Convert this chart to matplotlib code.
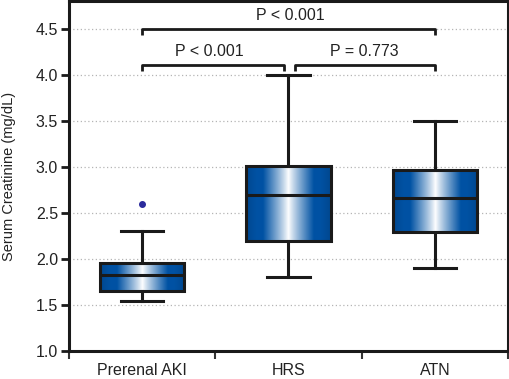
import numpy as np
import matplotlib
matplotlib.use("Agg")
import matplotlib.pyplot as plt

plt.rcParams['font.family'] = ['Liberation Sans', 'DejaVu Sans']

categories = ["Prerenal AKI", "HRS", "ATN"]
whisker_low = [1.54, 1.80, 1.90]
q1 = [1.65, 2.20, 2.29]
medians = [1.83, 2.70, 2.66]
q3 = [1.96, 3.01, 2.97]
whisker_high = [2.30, 4.00, 3.50]
outliers = [[2.60], [], []]
yticks = [1.0, 1.5, 2.0, 2.5, 3.0, 3.5, 4.0, 4.5]
p_labels = ["P < 0.001", "P < 0.001", "P = 0.773"]

fig = plt.figure(figsize=(5.10, 3.79), dpi=100)
ax = fig.add_axes([69/510, 28/379, 439/510, 350/379])

positions = [0.5, 1.5, 2.5]
stats = []
for i, c in enumerate(categories):
    stats.append(dict(label=c, whislo=whisker_low[i], q1=q1[i], med=medians[i],
                      q3=q3[i], whishi=whisker_high[i], fliers=outliers[i]))

lw = 2.2
bp = ax.bxp(stats, positions=positions, widths=0.575, patch_artist=True,
            capwidths=0.29, showfliers=True,
            boxprops=dict(facecolor='none', edgecolor='#1a1a1a', linewidth=lw),
            medianprops=dict(color='#1a1a1a', linewidth=lw),
            whiskerprops=dict(color='#1a1a1a', linewidth=lw),
            capprops=dict(color='#1a1a1a', linewidth=lw),
            flierprops=dict(marker='o', markerfacecolor='#2b2b9c', markeredgecolor='#2b2b9c',
                            markersize=4),
            zorder=3)

# gradient fill
xs = np.linspace(-1, 1, 256)
t = np.abs(xs)
s = np.clip(t / 0.6, 0, 1) ** 0.9
blue = np.array([0.0, 0.32, 0.64])
white = np.array([1.0, 1.0, 1.0])
cols = white[None, :] * (1 - s[:, None]) + blue[None, :] * s[:, None]
edge = np.clip((t - 0.75) / 0.25, 0, 1)
cols = cols * (1 - 0.12 * edge[:, None])
img = cols[None, :, :]
for i, box in enumerate(bp['boxes']):
    x0 = positions[i] - 0.575 / 2
    x1 = positions[i] + 0.575 / 2
    im = ax.imshow(img, extent=[x0, x1, q1[i], q3[i]], aspect='auto', zorder=2,
                   interpolation='bilinear')
    im.set_clip_path(box)

ax.set_xlim(0, 3)
ax.set_ylim(1.0, 4.804)
ax.set_yticks(yticks)
ax.set_yticklabels([f"{v:.1f}" for v in yticks], fontsize=11.5, color='#222222')
ax.set_xticks(positions)
ax.set_xticklabels(categories, fontsize=11.5, color='#222222')
ax.tick_params(axis='x', which='major', length=0, pad=8.5)
ax.set_xticks([0, 1, 2, 3], minor=True)
ax.tick_params(axis='x', which='minor', length=6, width=1.5, color='#333333')
ax.tick_params(axis='y', length=6, width=2, color='#1a1a1a', pad=2)

for y in yticks[1:]:
    ax.axhline(y, color='#b5b5b5', linestyle=(0, (1, 2)), linewidth=0.9, zorder=0)

for sp in ax.spines.values():
    sp.set_linewidth(2.2)
    sp.set_color('#1a1a1a')

ax.set_ylabel("Serum Creatinine (mg/dL)", fontsize=10.5, color='#222222')
ax.yaxis.set_label_coords(-0.120, 0.5)

# significance brackets
bk = dict(color='#1a1a1a', linewidth=2.0, solid_capstyle='butt', clip_on=False, zorder=4)
ax.plot([0.5, 0.5, 2.5, 2.5], [4.435, 4.5, 4.5, 4.435], **bk)
ax.plot([0.5, 0.5, 1.47, 1.47], [4.04, 4.109, 4.109, 4.04], **bk)
ax.plot([1.545, 1.545, 2.5, 2.5], [4.04, 4.109, 4.109, 4.04], **bk)
ax.text(1.51, 4.65, p_labels[0], ha='center', va='center', fontsize=11.5, color='#222222')
ax.text(0.96, 4.25, p_labels[1], ha='center', va='center', fontsize=11.5, color='#222222')
ax.text(2.02, 4.25, p_labels[2], ha='center', va='center', fontsize=11.5, color='#222222')

fig.savefig("out.png", dpi=100)
